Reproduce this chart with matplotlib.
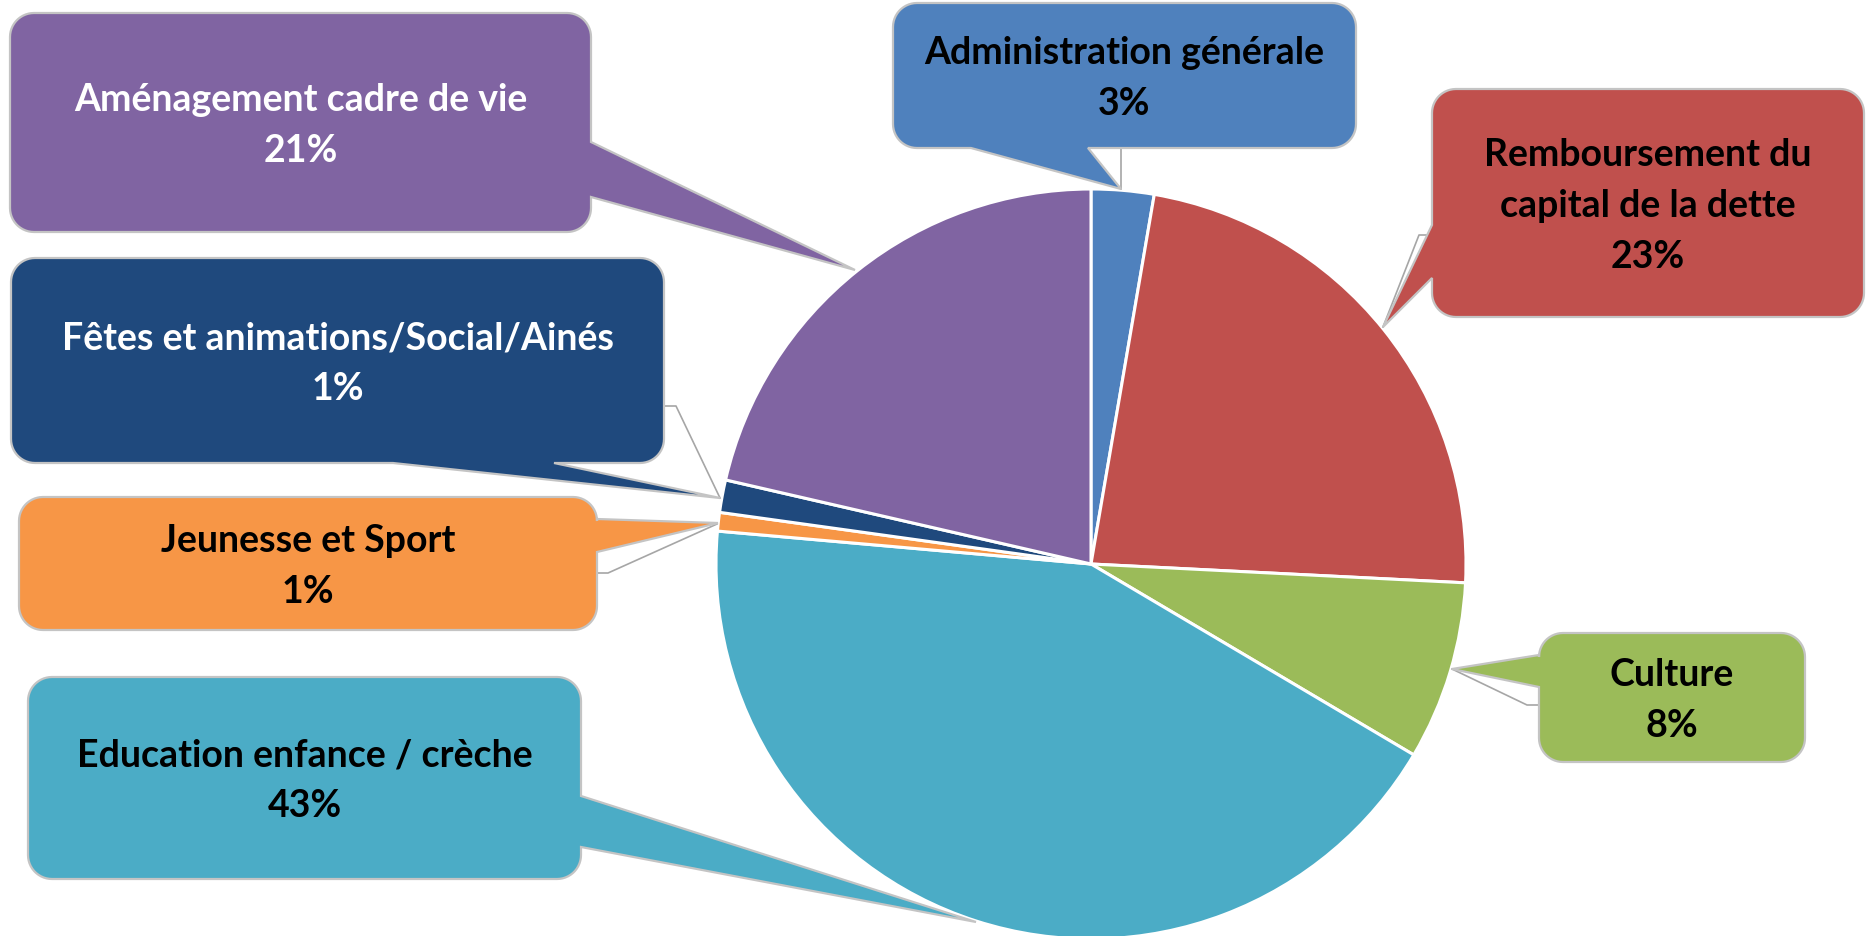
import numpy as np
import matplotlib
matplotlib.use("Agg")
import matplotlib.pyplot as plt
from matplotlib.patches import Polygon

# ---------------- data ----------------
categories = ["Administration générale", "Remboursement du\ncapital de la dette", "Culture",
              "Education enfance / crèche", "Jeunesse et Sport",
              "Fêtes et animations/Social/Ainés", "Aménagement cadre de vie"]
values = [2.7, 23.1, 7.7, 42.9, 0.8, 1.4, 21.4]
pct_labels = ["3%", "23%", "8%", "43%", "1%", "1%", "21%"]
colors = ["#4F81BD", "#C0504D", "#9BBB59", "#4BACC6", "#F79646", "#1F497D", "#8064A2"]
text_colors = ["black", "black", "black", "black", "black", "white", "white"]

# ---------------- layout (pixel coords, y down) ----------------
W, H = 1866, 936
center = (1091, 564)
radius = 375
boxes = [  # x0, y0, x1, y1, side, b0, b1, tip
    (893, 3, 1356, 148, "bottom", 971, 1088, (1121, 189)),
    (1432, 89, 1864, 317, "left", 225, 278, (1383, 327)),
    (1539, 633, 1805, 762, "left", 655, 687, (1452, 669)),
    (28, 677, 581, 879, "right", 796, 847, (976, 922)),
    (19, 497, 597, 630, "right", 519, 552, (718, 523)),
    (11, 258, 664, 463, "bottom", 393, 554, (720, 498)),
    (10, 13, 591, 232, "right", 142, 197, (855, 270)),
]
leaders = [
    [(1121, 148), (1121, 189)],
    [(1432, 235), (1419, 235), (1383, 327)],
    [(1539, 705), (1527, 705), (1452, 669)],
    None,
    [(597, 573), (608, 573), (717, 524)],
    [(665, 406), (676, 406), (720, 498)],
    None,
]

plt.rcParams['font.family'] = ['Lato', 'DejaVu Sans']

fig = plt.figure(figsize=(W / 100, H / 100), dpi=100)
ax = fig.add_axes([0, 0, 1, 1])

wedges, _ = ax.pie(values, colors=colors, startangle=-90, counterclock=True,
                   center=center, radius=radius,
                   wedgeprops=dict(edgecolor="white", linewidth=2.2))
ax.set_xlim(0, W)
ax.set_ylim(H, 0)
ax.set_aspect("auto")
ax.axis("off")


def callout(x0, y0, x1, y1, side, b0, b1, tip, r=24, n=14):
    pts = []

    def arc(cx, cy, a0, a1):
        for t in np.linspace(a0, a1, n):
            pts.append((cx + r * np.cos(t), cy + r * np.sin(t)))

    lo, hi = min(b0, b1), max(b0, b1)
    arc(x0 + r, y0 + r, np.pi, 1.5 * np.pi)
    if side == "top":
        pts.extend([(lo, y0), tip, (hi, y0)])
    arc(x1 - r, y0 + r, 1.5 * np.pi, 2 * np.pi)
    if side == "right":
        pts.extend([(x1, lo), tip, (x1, hi)])
    arc(x1 - r, y1 - r, 0, 0.5 * np.pi)
    if side == "bottom":
        pts.extend([(hi, y1), tip, (lo, y1)])
    arc(x0 + r, y1 - r, 0.5 * np.pi, np.pi)
    if side == "left":
        pts.extend([(x0, hi), tip, (x0, lo)])
    return pts


for i, cat in enumerate(categories):
    x0, y0, x1, y1, side, b0, b1, tip = boxes[i]
    if leaders[i] is not None:
        xs, ys = zip(*leaders[i])
        ax.plot(xs, ys, color="#A6A6A6", lw=1.2, zorder=2)
    poly = Polygon(callout(x0, y0, x1, y1, side, b0, b1, tip), closed=True,
                   facecolor=colors[i], edgecolor="#C4C4C4", lw=1.6,
                   joinstyle="miter", zorder=3)
    ax.add_patch(poly)
    ax.text((x0 + x1) / 2, (y0 + y1) / 2 + 3, cat + "\n" + pct_labels[i],
            ha="center", va="center", fontsize=27, fontweight="bold",
            color=text_colors[i], linespacing=1.6, zorder=4)

fig.savefig("out.png", dpi=100)
